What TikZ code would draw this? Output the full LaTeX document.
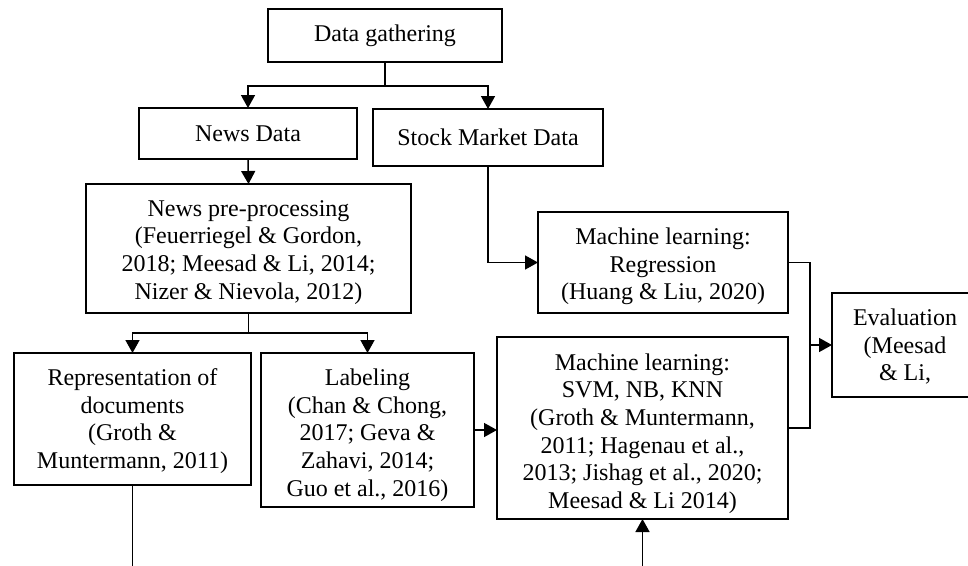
\documentclass[tikz,border=0pt]{standalone}
\usepackage{fontspec}
\setmainfont{Liberation Serif}
\usetikzlibrary{arrows.meta}
\begin{document}
\begin{tikzpicture}[x=1pt,y=-1pt,
  box/.style={draw, line width=1.5pt, inner sep=0pt, outer sep=0pt, align=center,
    font=\fontsize{24}{27.7}\selectfont},
  txt/.style={inner sep=0pt, outer sep=0pt, align=center, anchor=north,
    font=\fontsize{24}{27.7}\selectfont},
  arr/.style={line width=1.5pt, -{Triangle[length=13pt,width=14pt]}},
  ln/.style={line width=1.5pt}]
\useasboundingbox (0,0) rectangle (968,565);
\clip (0,0) rectangle (968,565);
\newcommand\topstrut{\rule{0pt}{20pt}}
\node[box, minimum width=234pt, minimum height=53pt] (dg) at (385,35.5) {Data gathering};
\node[box, minimum width=218pt, minimum height=51pt] (nd) at (248,133.5) {News Data};
\node[box, minimum width=230pt, minimum height=57pt] (smd) at (488,137.5) {Stock Market Data};
\node[box, minimum width=325pt, minimum height=129pt] (pp) at (248.5,248.5) {};
\node[txt] (ppt) at ([yshift=-12pt]pp.north)
  {\topstrut News pre-processing\\(Feuerriegel \& Gordon,\\2018; Meesad \& Li, 2014;\\Nizer \& Nievola, 2012)};
\node[box, minimum width=237pt, minimum height=132pt] (rep) at (132.5,419) {};
\node[txt] (rept) at ([yshift=-12.5pt]rep.north)
  {\topstrut Representation of\\documents\\(Groth \&\\Muntermann, 2011)};
\node[box, minimum width=213pt, minimum height=154pt] (lab) at (367.5,430) {};
\node[txt] (labt) at ([yshift=-12.5pt]lab.north)
  {\topstrut Labeling\\(Chan \& Chong,\\2017; Geva \&\\Zahavi, 2014;\\Guo et al., 2016)};
\node[box, minimum width=250pt, minimum height=101pt] (reg) at (663,262.5) {};
\node[txt] (regt) at ([yshift=-12.5pt]reg.north)
  {\topstrut Machine learning:\\Regression\\(Huang \& Liu, 2020)};
\node[box, minimum width=291pt, minimum height=182pt] (svm) at (642.5,428) {};
\node[txt] (svmt) at ([yshift=-13pt]svm.north)
  {\topstrut Machine learning:\\SVM, NB, KNN\\(Groth \& Muntermann,\\2011; Hagenau et al.,\\2013; Jishag et al., 2020;\\Meesad \& Li 2014)};
\node[box, minimum width=146pt, minimum height=104pt] (ev) at (905,345) {};
\node[txt] (evt) at ([yshift=-12.5pt]ev.north)
  {\topstrut Evaluation\\(Meesad\\\& Li,};
% connectors
\coordinate (j1) at (385,86);
\draw[ln] (dg.south) -- (j1);
\draw[arr] (j1) -| (nd.north);
\draw[arr] (j1) -| (smd.north);
\draw[arr] (nd.south) -- (pp.north);
\coordinate (j2) at (248.5,333);
\draw[ln] (pp.south) -- (j2);
\draw[arr] (j2) -| (rep.north);
\draw[arr] (j2) -| (lab.north);
\coordinate (repend) at (132.5,570);
\draw[ln] (rep.south) -- (repend);
\draw[arr] (lab.east) -- (svm.west |- lab.east);
\draw[arr] (smd.south) |- (reg.west);
\coordinate (j3) at (810,345);
\draw[ln] (reg.east) -| (j3) |- (svm.east);
\draw[arr] (j3) -- (ev.west);
\coordinate (svmin) at (642.5,570);
\draw[arr] (svmin) -- (svm.south);
\end{tikzpicture}
\end{document}
